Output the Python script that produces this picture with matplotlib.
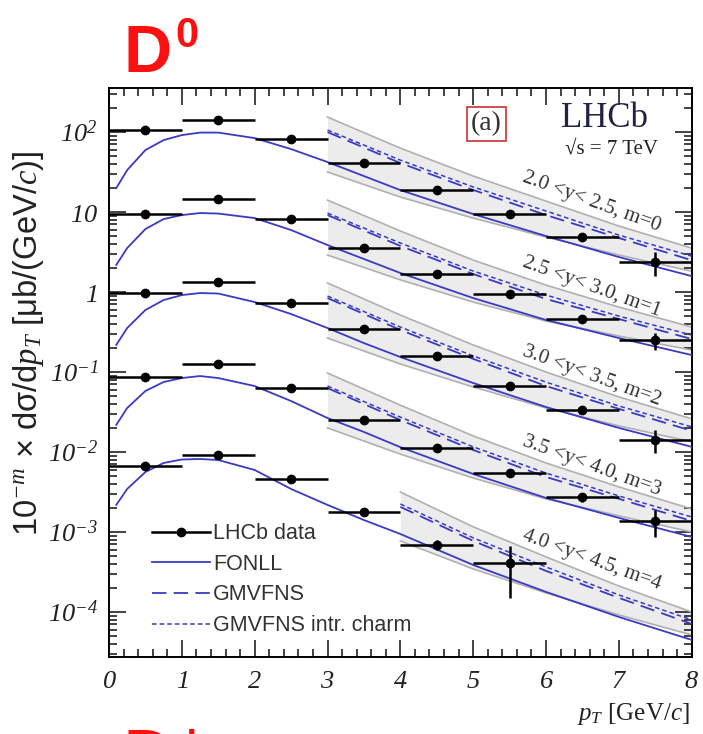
import numpy as np
import matplotlib
matplotlib.use("Agg")
import matplotlib.pyplot as plt
from matplotlib.lines import Line2D
from matplotlib.ticker import LogLocator, FuncFormatter, MultipleLocator, NullFormatter

matplotlib.rcParams["mathtext.fontset"] = "custom"
matplotlib.rcParams["mathtext.rm"] = "Liberation Serif:italic"
matplotlib.rcParams["mathtext.it"] = "Liberation Serif:italic"

# pT bins of the measurement
pt_centres = [0.5, 1.5, 2.5, 3.5, 4.5, 5.5, 6.5, 7.5]
pt_half = 0.5
scale_m = [0, 1, 2, 3, 4]
rap_labels = ["2.0 <y< 2.5, m=0", "2.5 <y< 3.0, m=1", "3.0 <y< 3.5, m=2",
              "3.5 <y< 4.0, m=3", "4.0 <y< 4.5, m=4"]

# LHCb D0 data, ub/(GeV/c), before the 10^-m factor
data_xsec = [
    [106, 141, 81.8, 41.0, 18.8, 9.4, 4.87, 2.37],
    [94.4, 145, 81.8, 35.5, 16.8, 9.44, 4.6, 2.51],
    [97, 133, 73, 34.5, 15.8, 6.7, 3.35, 1.41],
    [86.6, 126, 63, 25, 11.2, 5.5, 2.7, 1.37],
    [66.8, 91.8, 46, 17.8, 6.9, 4.1],
]
data_err = [
    [8, 10, 6, 3, 1.5, 0.8, 0.4, 0.8],
    [7, 10, 6, 2.5, 1.2, 0.7, 0.4, 0.6],
    [7, 9, 5, 2.5, 1.2, 0.6, 0.3, 0.45],
    [6, 9, 4.5, 2, 0.9, 0.5, 0.3, 0.5],
    [5, 7, 3.5, 1.5, 1.0, 2.6],
]

# FONLL central
fonll_pt = [0.1, 0.25, 0.5, 0.75, 1.0, 1.25, 1.5, 2.0, 2.5, 3.0, 3.5, 4.0, 5.0, 6.0, 7.0, 8.0]
fonll = [
    [19.9, 33.5, 59.6, 79.4, 91.7, 98.6, 98.6, 84.1, 61.3, 42.2, 28.2, 18.8, 9.44, 5.01, 2.74, 1.58],
    [21.8, 35.5, 61.3, 81.8, 91.7, 97.2, 95.8, 84.1, 59.6, 38.7, 25.9, 17.3, 8.41, 4.47, 2.66, 1.63],
    [21.8, 35.5, 59.6, 79.4, 91.7, 97.2, 95.8, 75.0, 53.1, 35.5, 23.0, 15.4, 7.29, 3.65, 2.00, 1.16],
    [21.8, 35.5, 57.9, 75.0, 84.1, 89.1, 84.1, 66.8, 43.4, 26.6, 17.8, 11.5, 5.31, 2.66, 1.50, 0.866],
    [21.8, 34.5, 56.2, 72.9, 80.6, 81.8, 79.4, 59.6, 34.5, 21.8, 14.1, 9.44, 3.87, 1.78, 0.866, 0.447],
]

# GMVFNS (central, intrinsic charm, band edges)
gm_pt = [
    [3, 4, 5, 6, 7, 8],
    [3, 4, 5, 6, 7, 8],
    [3, 4, 5, 6, 7, 8],
    [3, 4, 5, 6, 7, 8],
    [4, 5, 6, 7, 8],
]
gm_hi = [
    [154, 63.0, 28.2, 13.7, 6.69, 3.54],
    [141, 58.0, 25.1, 12.2, 6.49, 3.65],
    [130, 51.6, 21.8, 10.0, 4.88, 2.60],
    [97.1, 38.5, 15.9, 7.29, 3.66, 1.94],
    [31.6, 11.6, 4.88, 2.11, 1.00],
]
gm_lo = [
    [31.7, 15.4, 8.41, 4.87, 2.90, 1.82],
    [29.0, 14.2, 7.49, 4.34, 2.82, 1.88],
    [26.6, 12.6, 6.50, 3.55, 2.12, 1.34],
    [20.0, 9.41, 4.73, 2.59, 1.59, 1.00],
    [7.72, 3.45, 1.73, 0.917, 0.516],
]
gm_c = [
    [100, 41.0, 18.9, 9.17, 4.74, 2.50],
    [91.7, 37.7, 16.8, 8.18, 4.60, 2.58],
    [84.1, 33.6, 14.6, 6.68, 3.46, 1.84],
    [63.0, 25.1, 10.6, 4.87, 2.60, 1.37],
    [20.6, 7.74, 3.26, 1.50, 0.708],
]
gm_ic = [
    [106, 44.6, 20.6, 10.3, 5.15, 2.81],
    [97.1, 41.0, 18.3, 9.16, 5.00, 2.90],
    [89.1, 36.5, 15.9, 7.48, 3.76, 2.06],
    [66.8, 27.3, 11.6, 5.45, 2.82, 1.54],
    [22.4, 8.44, 3.65, 1.63, 0.796],
]

blue = "#3a3ac4"
band_fill = "#ececec"
band_edge = "#b0b0b0"

fig = plt.figure(figsize=(7.03, 7.34), dpi=100)
ax = fig.add_axes([0.155, 0.105, 0.829, 0.775])
ax.set_yscale("log")

for i, m in enumerate(scale_m):
    f = 10.0 ** (-m)
    gx = np.array(gm_pt[i])
    hi = np.array(gm_hi[i]) * f
    lo = np.array(gm_lo[i]) * f
    ax.fill_between(gx, lo, hi, color=band_fill, lw=0, zorder=1)
    ax.plot(gx, hi, color=band_edge, lw=1.2, zorder=2)
    ax.plot(gx, lo, color=band_edge, lw=1.2, zorder=2)
    ax.plot(fonll_pt, np.array(fonll[i]) * f, color=blue, lw=1.3, zorder=3)
    ax.plot(gx, np.array(gm_c[i]) * f, color=blue, lw=1.3, ls=(0, (8, 4)), zorder=3)
    ax.plot(gx, np.array(gm_ic[i]) * f, color=blue, lw=1.1, ls=(0, (3, 2)), zorder=3)
    n = len(data_xsec[i])
    ax.errorbar(pt_centres[:n], np.array(data_xsec[i]) * f,
                xerr=pt_half, yerr=np.array(data_err[i]) * f,
                fmt="o", color="black", ms=6, elinewidth=1.8, capsize=0, zorder=5)

ax.set_xlim(0, 8)
ax.set_ylim(2.74e-5, 355)

ax.xaxis.set_major_locator(MultipleLocator(1))
ax.xaxis.set_minor_locator(MultipleLocator(0.2))
ax.xaxis.set_major_formatter(FuncFormatter(lambda v, p: r"$%d$" % round(v)))

def ylab(v, p):
    e = int(round(np.log10(v)))
    if e == 1:
        return r"$10$"
    if e == 0:
        return r"$1$"
    return r"$10^{%d}$" % e

ax.yaxis.set_major_locator(LogLocator(base=10, numticks=20))
ax.yaxis.set_minor_locator(LogLocator(base=10, subs=np.arange(2, 10), numticks=20))
ax.yaxis.set_major_formatter(FuncFormatter(ylab))
ax.yaxis.set_minor_formatter(NullFormatter())

ax.tick_params(which="both", direction="in", top=True, right=True, width=1.2, colors="#222222")
ax.tick_params(which="major", length=12, labelsize=19, pad=8)
ax.tick_params(which="minor", length=6)
for s in ax.spines.values():
    s.set_linewidth(1.4)

ax.set_ylabel(r"10$^{-m}$ × dσ/d$p_{T}$ [μb/(GeV/$c$)]", fontsize=23.5,
              family="Liberation Sans", color="#222222")
ax.yaxis.set_label_coords(-0.108, 0.552)
ax.text(0.997, -0.078, r"$p_{T}$ [GeV/$c$]", transform=ax.transAxes, ha="right", va="top",
        fontsize=18, family="Liberation Serif", color="#222222")

# rapidity labels
lab_y = [0.800, 0.650, 0.494, 0.336, 0.170]
for txt, yy in zip(rap_labels, lab_y):
    ax.text(0.828, yy, txt, transform=ax.transAxes, rotation=-20, ha="center", va="center",
            rotation_mode="anchor", fontsize=15, family="Liberation Serif", color="#333333", zorder=6)

ax.text(0.648, 0.937, "(a)", transform=ax.transAxes, ha="center", va="center", fontsize=20,
        family="Liberation Serif", color="#333333",
        bbox=dict(boxstyle="square,pad=0.15", fc="none", ec="#d03030", lw=1.2))
ax.text(0.851, 0.946, "LHCb", transform=ax.transAxes, ha="center", va="center", fontsize=25,
        family="Liberation Serif", color="#222244")
ax.text(0.863, 0.893, "√s = 7 TeV", transform=ax.transAxes, ha="center", va="center", fontsize=15,
        family="Liberation Serif", color="#222222")

handles = [
    Line2D([], [], color="black", marker="o", ms=6, lw=1.8),
    Line2D([], [], color=blue, lw=1.3),
    Line2D([], [], color=blue, lw=1.3, ls=(0, (8, 4))),
    Line2D([], [], color=blue, lw=1.1, ls=(0, (3, 2))),
]
names = ["LHCb data", "FONLL", "GMVFNS", "GMVFNS intr. charm"]
leg = ax.legend(handles, names, loc="lower left", bbox_to_anchor=(0.048, 0.01), frameon=False,
                handlelength=2.7, labelspacing=0.45, handletextpad=0.15, borderpad=0.2,
                prop={"family": "Liberation Sans", "size": 15.5})
for t in leg.get_texts():
    t.set_color("#333333")

# red panel titles (the lower one belongs to the next panel and is cut by the edge)
fig.text(124 / 703, 1 - 72 / 734, "D", fontsize=48, weight="bold", color="#ff1010",
         family="Liberation Sans", ha="left", va="baseline")
fig.text(175 / 703, 1 - 47 / 734, "0", fontsize=30, weight="bold", color="#ff1010",
         family="Liberation Sans", ha="left", va="baseline")
fig.text(124 / 703, -0.057, "D", fontsize=48, weight="bold", color="#ff1010",
         family="Liberation Sans", ha="left", va="baseline")
fig.text(178 / 703, -0.032, "+", fontsize=34, weight="bold", color="#ff1010",
         family="Liberation Sans", ha="left", va="baseline")

fig.savefig("out.png", dpi=100)
